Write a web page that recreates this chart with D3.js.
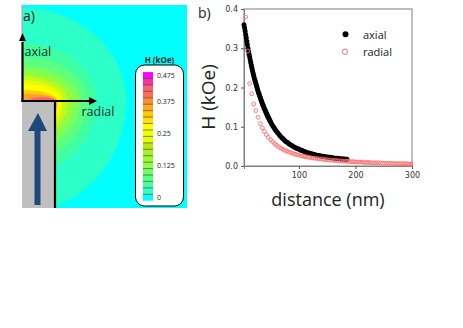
<!DOCTYPE html>
<html><head><meta charset="utf-8">
<script src="https://cdnjs.cloudflare.com/ajax/libs/d3/7.8.5/d3.min.js"></script>
<style>html,body{margin:0;padding:0;background:#fff}svg{display:block}text{font-family:"Open Sans",sans-serif}</style>
</head><body><svg id="c" width="463" height="328"></svg>
<script>
const legendLevels=[0,0.025,0.05,0.075,0.1,0.125,0.15,0.175,0.2,0.225,0.25,0.275,0.3,0.325,0.35,0.375,0.4,0.425,0.45,0.475];
const legendColors=["#00ffff","#33ffc4","#45ffa0","#55ff80","#70ff60","#88ff40","#99ff30","#a8f020","#b8e810","#e0ff00","#eeff00","#ffff00","#ffe000","#ffc800","#ffa81a","#ff8c33","#ff7050","#ff5f70","#ff2fa0","#ff00ff"];
const legendTicks=[0,0.125,0.25,0.375,0.475];
const legendTickLabels=["0","0.125","0.25","0.375","0.475"];
const contourColors=["#2cffc8","#40ffa0","#5cff80","#7cff58","#99fb38","#c0fa18","#e8fb00","#ffff00","#ffd000","#ffa030","#ff6070"];
const contourLeft=[0,0,0,0,0,0,0,0,0,8,20];
const contourRight=[71,41,33,25,18,13,8,5,3,1.5,0];
const contourUp=[93,58,44,35,29,25,21,17,11,7,4];
const contourDown=[111,74,60,50,44,40,38,36,30,20,5];
const axialX=[3,4,5,6,7,8,9,10,11,12,13,14,15,16,17,18,19,20,21,22,23,24,25,26,27,28,29,30,31,32,33,34,35,36,37,38,39,40,41,42,43,44,45,46,47,48,49,50,52,54,56,58,60,62.5,65,67.5,70,72.5,75,77.5,80,82.5,85,87.5,90,92.5,95,97.5,100,102.5,105,107.5,110,112.5,115,117.5,120,122.5,125,127.5,130,132.5,135,137.5,140,142.5,145,147.5,150,152.5,155,157.5,160,162.5,165,167.5,170,172.5,175,177.5,180,182.5,185];
const axialY=[0.36,0.352,0.344,0.335,0.327,0.318,0.309,0.3,0.292,0.285,0.278,0.27,0.263,0.256,0.25,0.243,0.237,0.231,0.225,0.22,0.215,0.21,0.205,0.2,0.195,0.19,0.186,0.182,0.177,0.173,0.169,0.165,0.161,0.157,0.154,0.15,0.146,0.143,0.14,0.136,0.133,0.13,0.127,0.124,0.121,0.118,0.115,0.112,0.107,0.102,0.098,0.093,0.089,0.085,0.08,0.076,0.072,0.069,0.065,0.062,0.06,0.057,0.054,0.052,0.05,0.048,0.046,0.044,0.043,0.041,0.04,0.038,0.037,0.035,0.034,0.033,0.032,0.031,0.03,0.029,0.028,0.027,0.027,0.026,0.025,0.025,0.024,0.023,0.023,0.022,0.022,0.021,0.021,0.02,0.02,0.02,0.019,0.019,0.018,0.018,0.018,0.017,0.017];
const radialX=[6,9.5,13,16.5,20,24,28,32,35.5,39,42.5,46,50,53.5,57,60.5,64,68,71.5,75,78.5,82,86,89.5,93,96.5,100,104,107.5,111,114.5,118,122,125.5,129,132.5,136,140,143.5,147,150.5,154,158,161.5,165,168.5,172,176,179.5,183,186.5,190,194,197.5,201,204.5,208,212,215.5,219,222.5,226,230,233.5,237,240.5,244,248,251.5,255,258.5,262,266,269.5,273,276.5,280,284,287.5,291,294.5,298,300];
const radialY=[0.38,0.293,0.21,0.184,0.158,0.141,0.124,0.108,0.097,0.088,0.08,0.073,0.067,0.062,0.057,0.053,0.049,0.046,0.043,0.04,0.038,0.036,0.034,0.032,0.03,0.029,0.028,0.026,0.025,0.024,0.023,0.022,0.021,0.02,0.02,0.019,0.018,0.018,0.017,0.016,0.016,0.015,0.015,0.014,0.014,0.013,0.013,0.013,0.012,0.012,0.012,0.011,0.011,0.011,0.01,0.01,0.01,0.01,0.009,0.009,0.009,0.009,0.008,0.008,0.008,0.008,0.008,0.007,0.007,0.007,0.007,0.007,0.007,0.006,0.006,0.006,0.006,0.006,0.006,0.006,0.005,0.005,0.005];
const xTicks=[100,200,300];
const yTicks=[0,0.1,0.2,0.3,0.4];

const svg=d3.select("#c");
const panel={l:22,r:187,t:5,b:208}, corner={x:55,y:101};
const defs=svg.append("defs");
defs.append("clipPath").attr("id","pa").append("rect").attr("x",panel.l).attr("y",panel.t).attr("width",panel.r-panel.l).attr("height",panel.b-panel.t);
const pa=svg.append("g").attr("clip-path","url(#pa)");
pa.append("rect").attr("x",panel.l).attr("y",panel.t).attr("width",panel.r-panel.l).attr("height",panel.b-panel.t).attr("fill","#00ffff");
const ring=i=>{
  const cx=panel.l+contourLeft[i], rx=corner.x+contourRight[i]-cx, u=contourUp[i], d=contourDown[i], cy=corner.y;
  return `M${cx-rx},${cy}A${rx},${u} 0 0 1 ${cx+rx},${cy}A${rx},${d} 0 0 1 ${cx-rx},${cy}Z`;
};
pa.selectAll("path.ring").data(contourColors).join("path").attr("class","ring").attr("d",(c,i)=>ring(i)).attr("fill",c=>c);
pa.append("rect").attr("x",panel.l).attr("y",corner.y).attr("width",corner.x-panel.l).attr("height",panel.b-corner.y).attr("fill","#bfbfbf");
svg.append("line").attr("x1",22).attr("x2",22).attr("y1",5).attr("y2",36).attr("stroke","#9a9af0").attr("stroke-width",1);
const black=(x1,y1,x2,y2,w)=>svg.append("line").attr("x1",x1).attr("y1",y1).attr("x2",x2).attr("y2",y2).attr("stroke","#000").attr("stroke-width",w);
black(22.5,102,22.5,42,2.2);
black(21.5,101,90,101,2.2);
black(55,101,55,208,2.2);
svg.append("path").attr("d","M22.5,33L19,41H26Z").attr("fill","#000");
svg.append("path").attr("d","M97,101L89,97V105Z").attr("fill","#000");
svg.append("path").attr("d","M38,113L28,131H34.5V205H40.5V131H47Z").attr("fill","#1f497d");
svg.append("text").attr("x",23).attr("y",21).attr("font-size",14).attr("fill","#222").text("a)");
svg.append("text").attr("x",24.5).attr("y",56).attr("font-size",12.5).attr("fill","#1a2a2a").text("axial");
svg.append("text").attr("x",81.5).attr("y",115.5).attr("font-size",12.5).attr("fill","#1a2a2a").text("radial");
svg.append("rect").attr("x",135.5).attr("y",65).attr("width",48).attr("height",141).attr("rx",9).attr("fill","#fff").attr("stroke","#000").attr("stroke-width",1);
svg.append("text").attr("x",159.5).attr("y",62.5).attr("text-anchor","middle").attr("font-size",8).attr("font-weight",700).attr("fill","#222").text("H (kOe)");
const ly=d3.scaleLinear().domain([0,0.475]).range([197.5,75.3]);
const cellH=Math.abs(ly(0.025)-ly(0));
const lg=svg.append("g");
lg.selectAll("rect").data(legendLevels).join("rect").attr("x",143).attr("width",10).attr("y",d=>ly(d)-cellH/2).attr("height",cellH).attr("fill",(d,i)=>legendColors[i]);
lg.selectAll("line").data(legendLevels.slice(0,-1)).join("line").attr("x1",143).attr("x2",153).attr("y1",d=>ly(d)-cellH/2).attr("y2",d=>ly(d)-cellH/2).attr("stroke","#333").attr("stroke-width",0.6);
lg.selectAll("text").data(legendTicks).join("text").attr("x",157).attr("y",d=>ly(d)+2.6).attr("font-size",7).attr("fill","#222").text((d,i)=>legendTickLabels[i]);
const x=d3.scaleLinear().domain([3,300]).range([244,412]);
const y=d3.scaleLinear().domain([0,0.4]).range([166,9]);
svg.append("text").attr("x",198).attr("y",18).attr("font-size",14).attr("fill","#222").text("b)");
svg.append("rect").attr("x",244).attr("y",9).attr("width",168).attr("height",157).attr("fill","none").attr("stroke","#7f7f7f").attr("stroke-width",1);
const ax=svg.append("g").attr("transform","translate(0,166)").call(d3.axisBottom(x).tickValues(xTicks).tickSize(3).tickFormat(d3.format("d")));
const ay=svg.append("g").attr("transform","translate(244,0)").call(d3.axisLeft(y).tickValues(yTicks).tickSize(3).tickFormat(d3.format(".1f")));
[ax,ay].forEach(a=>{a.select(".domain").attr("stroke","#7f7f7f");a.selectAll("line").attr("stroke","#555");a.selectAll("text").attr("font-size",8).attr("fill","#333").style("font-family","'DejaVu Sans',sans-serif");});
defs.append("clipPath").attr("id","pb").append("rect").attr("x",238).attr("y",5).attr("width",175).attr("height",166);
const pb=svg.append("g").attr("clip-path","url(#pb)");
pb.selectAll("circle.a").data(axialX).join("circle").attr("class","a").attr("cx",d=>x(d)).attr("cy",(d,i)=>y(axialY[i])).attr("r",2.5).attr("fill","#000");
pb.selectAll("circle.r").data(radialX).join("circle").attr("class","r").attr("cx",d=>x(d)).attr("cy",(d,i)=>y(radialY[i])).attr("r",1.9).attr("fill","none").attr("stroke","#ff6b6b").attr("stroke-width",0.9);
svg.append("circle").attr("cx",345.5).attr("cy",34.3).attr("r",3).attr("fill","#000");
svg.append("circle").attr("cx",345).attr("cy",51.7).attr("r",2.7).attr("fill","none").attr("stroke","#ff6b6b").attr("stroke-width",1);
svg.append("text").attr("x",363).attr("y",39).attr("font-size",11).attr("fill","#222").text("axial");
svg.append("text").attr("x",363).attr("y",56).attr("font-size",11).attr("fill","#222").text("radial");
svg.append("text").attr("x",328).attr("y",206).attr("text-anchor","middle").attr("font-size",18).attr("fill","#222").text("distance (nm)");
svg.append("text").attr("transform","translate(215,97) rotate(-90)").attr("text-anchor","middle").attr("font-size",19).attr("fill","#222").text("H (kOe)");
</script></body></html>
